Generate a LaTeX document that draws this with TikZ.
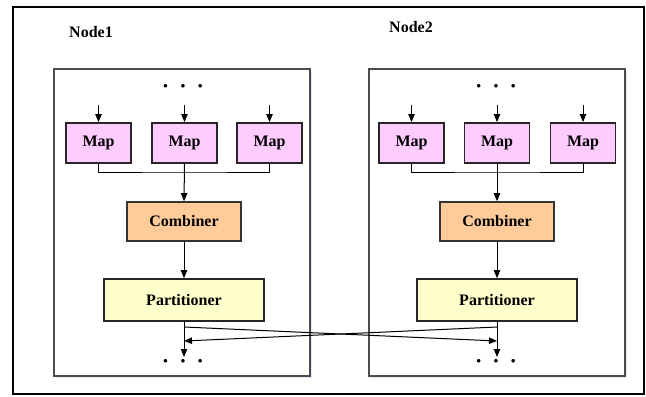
\documentclass[tikz,border=0pt]{standalone}
\usepackage{fontspec}
\setmainfont{Liberation Serif}
\usepackage{xcolor}
\usepackage{tikz}
\usetikzlibrary{scopes,arrows.meta}

\definecolor{mappink}{RGB}{255,204,255}
\definecolor{combpeach}{RGB}{255,204,153}
\definecolor{partyellow}{RGB}{255,255,204}
\definecolor{boxshade}{RGB}{222,232,246}

\begin{document}
\begin{tikzpicture}[x=0.5pt,y=-0.5pt,
      font=\fontsize{8}{9.6}\selectfont\bfseries,
      flow/.style={>={Triangle[length=4pt,width=3.2pt]},draw=black,line width=0.5pt},
      frame/.style={draw=black!70,line width=0.6pt,fill=white},
      map/.style={rectangle,draw=black!85,fill=mappink,line width=0.9pt,minimum width=32.5pt,minimum height=20pt,inner sep=0pt},
      comb/.style={rectangle,draw=black!80,fill=combpeach,line width=0.8pt,minimum width=57pt,minimum height=19.5pt,inner sep=0pt},
      part/.style={rectangle,draw=black!85,fill=partyellow,line width=0.8pt,minimum width=80pt,minimum height=21pt,inner sep=0pt},
      dots/.style={font=\fontsize{11}{12}\selectfont\bfseries,inner sep=0pt}
]
      \useasboundingbox (0,0) rectangle (646,396);
      \draw[line width=1pt] (13,7) rectangle (644,394);

      % the two machines
      \fill[boxshade] (56,71) rectangle (312,378);
      \fill[boxshade] (371,71) rectangle (627,378);
      \draw[frame] (54,69) rectangle (310,376);
      \draw[frame] (369,69) rectangle (625,376);
      \node at (91,32) (n1) {Node1};
      \node at (411,27) (n2) {Node2};

      % first machine
      \node[dots] at (183,89) (t1) {·\hspace{5pt}·\hspace{5pt}·};
      \node[map] at (98.5,143) (m11) {Map};
      \node[map] at (184.5,143) (m12) {Map};
      \node[map] at (269.5,143) (m13) {Map};
      \node[comb] at (184,221.5) (c1) {Combiner};
      \node[part] at (184,300) (p1) {Partitioner};
      \node[dots] at (183,364) (b1) {·\hspace{5pt}·\hspace{5pt}·};

      % second machine
      \node[dots] at (496,89) (t2) {·\hspace{5pt}·\hspace{5pt}·};
      \node[map] at (411.5,143) (m21) {Map};
      \node[map] at (497,143) (m22) {Map};
      \node[map] at (583,143) (m23) {Map};
      \node[comb] at (497,221.5) (c2) {Combiner};
      \node[part] at (497,300) (p2) {Partitioner};
      \node[dots] at (496,364) (b2) {·\hspace{5pt}·\hspace{5pt}·};

      \coordinate (bus1) at (184.5,172);
      \coordinate (bus2) at (497,172);
      \coordinate (out1) at (184,357);
      \coordinate (out2) at (497,357);
      \coordinate (x1) at (184,327);
      \coordinate (x2) at (497,327);
      \coordinate (y1) at (184,341);
      \coordinate (y2) at (497,341);

      {[flow,->]
          \draw (m11.north) ++(0,-17) -- (m11.north);
          \draw (m12.north) ++(0,-17) -- (m12.north);
          \draw (m13.north) ++(0,-17) -- (m13.north);
          \draw (m21.north) ++(0,-17) -- (m21.north);
          \draw (m22.north) ++(0,-17) -- (m22.north);
          \draw (m23.north) ++(0,-17) -- (m23.north);
          \draw (m12.south) -- (c1.north);
          \draw (m22.south) -- (c2.north);
          \draw (c1.south) -- (p1.north);
          \draw (c2.south) -- (p2.north);
          \draw (p1.south) -- (out1);
          \draw (p2.south) -- (out2);
          \draw (x1) -- (y2);
          \draw (x2) -- (y1);
      }
      {[flow]
          \draw (m11.south) |- (bus1) -| (m13.south);
          \draw (m21.south) |- (bus2) -| (m23.south);
      }
\end{tikzpicture}
\end{document}
